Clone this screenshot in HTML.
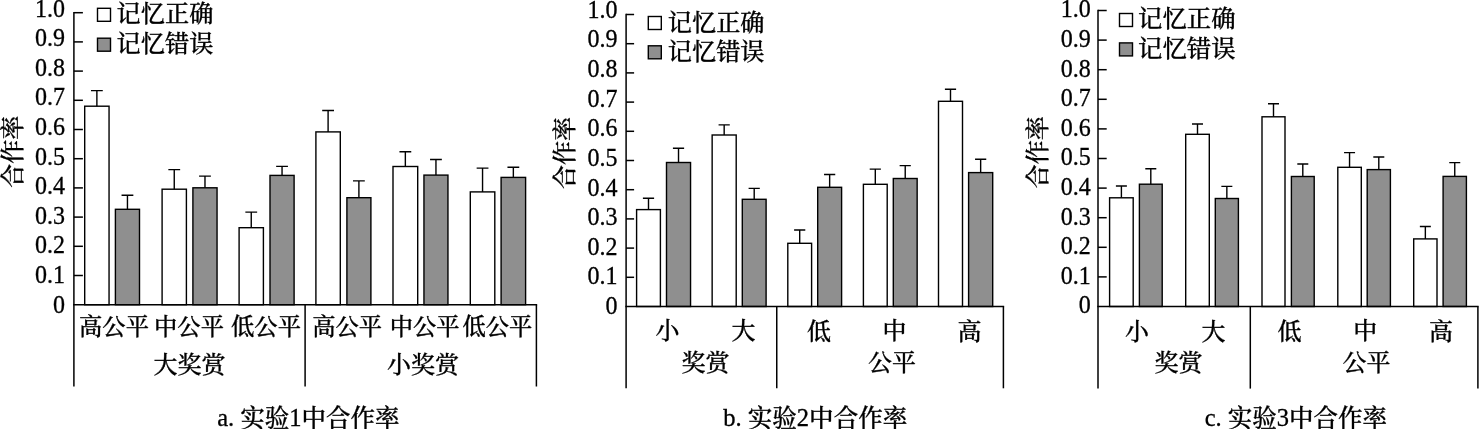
<!DOCTYPE html>
<html lang="zh-CN"><head><meta charset="utf-8"><title>合作率</title>
<style>html,body{margin:0;padding:0;background:#fff}svg{display:block}svg text{font-family:"Liberation Serif", "Noto Serif CJK SC", serif;fill:#000;font-weight:500;stroke:#000;stroke-width:0.3px}svg line{stroke:#000;stroke-width:1.5}svg rect{stroke:#000;stroke-width:1.4}svg path{stroke:#000;stroke-width:1.4;fill:none}</style></head><body>
<svg width="1479" height="429" viewBox="0 0 1479 429">
<g>
<rect class="b" x="84.70" y="106.20" width="24.35" height="198.50" fill="#fff"/>
<path class="b" d="M96.88 106.20V90.60M90.97 90.60H102.78"/>
<rect class="b" x="115.40" y="209.30" width="24.10" height="95.40" fill="#8f8f8f"/>
<path class="b" d="M127.45 209.30V195.30M121.55 195.30H133.35"/>
<rect class="b" x="162.10" y="189.20" width="24.30" height="115.50" fill="#fff"/>
<path class="b" d="M174.25 189.20V169.60M168.35 169.60H180.15"/>
<rect class="b" x="192.90" y="187.80" width="24.15" height="116.90" fill="#8f8f8f"/>
<path class="b" d="M204.98 187.80V176.10M199.08 176.10H210.88"/>
<rect class="b" x="239.10" y="227.70" width="24.30" height="77.00" fill="#fff"/>
<path class="b" d="M251.25 227.70V212.10M245.35 212.10H257.15"/>
<rect class="b" x="270.00" y="175.40" width="24.10" height="129.30" fill="#8f8f8f"/>
<path class="b" d="M282.05 175.40V166.40M276.15 166.40H287.95"/>
<rect class="b" x="315.90" y="131.90" width="24.40" height="172.80" fill="#fff"/>
<path class="b" d="M328.10 131.90V110.50M322.20 110.50H334.00"/>
<rect class="b" x="346.90" y="197.70" width="24.00" height="107.00" fill="#8f8f8f"/>
<path class="b" d="M358.90 197.70V180.90M353.00 180.90H364.80"/>
<rect class="b" x="393.00" y="166.50" width="24.70" height="138.20" fill="#fff"/>
<path class="b" d="M405.35 166.50V151.80M399.45 151.80H411.25"/>
<rect class="b" x="423.95" y="175.10" width="24.00" height="129.60" fill="#8f8f8f"/>
<path class="b" d="M435.95 175.10V159.50M430.05 159.50H441.85"/>
<rect class="b" x="470.30" y="191.90" width="24.50" height="112.80" fill="#fff"/>
<path class="b" d="M482.55 191.90V168.10M476.65 168.10H488.45"/>
<rect class="b" x="501.10" y="177.40" width="24.50" height="127.30" fill="#8f8f8f"/>
<path class="b" d="M513.35 177.40V167.20M507.45 167.20H519.25"/>
<line x1="73.90" y1="11.95" x2="73.90" y2="386.50"/>
<line x1="73.15" y1="304.70" x2="537.15" y2="304.70"/>
<line x1="536.40" y1="304.70" x2="536.40" y2="386.50"/>
<line x1="305.10" y1="304.70" x2="305.10" y2="386.50"/>
<line x1="73.90" y1="275.50" x2="82.90" y2="275.50"/>
<line x1="73.90" y1="246.30" x2="82.90" y2="246.30"/>
<line x1="73.90" y1="217.10" x2="82.90" y2="217.10"/>
<line x1="73.90" y1="187.90" x2="82.90" y2="187.90"/>
<line x1="73.90" y1="158.70" x2="82.90" y2="158.70"/>
<line x1="73.90" y1="129.50" x2="82.90" y2="129.50"/>
<line x1="73.90" y1="100.30" x2="82.90" y2="100.30"/>
<line x1="73.90" y1="71.10" x2="82.90" y2="71.10"/>
<line x1="73.90" y1="41.90" x2="82.90" y2="41.90"/>
<line x1="73.90" y1="12.70" x2="82.90" y2="12.70"/>
<text transform="translate(65.10,312.60) scale(1,1.06)" text-anchor="end" font-size="24">0</text>
<text transform="translate(65.10,283.00) scale(1,1.06)" text-anchor="end" font-size="24">0.1</text>
<text transform="translate(65.10,253.40) scale(1,1.06)" text-anchor="end" font-size="24">0.2</text>
<text transform="translate(65.10,223.80) scale(1,1.06)" text-anchor="end" font-size="24">0.3</text>
<text transform="translate(65.10,194.20) scale(1,1.06)" text-anchor="end" font-size="24">0.4</text>
<text transform="translate(65.10,164.60) scale(1,1.06)" text-anchor="end" font-size="24">0.5</text>
<text transform="translate(65.10,135.00) scale(1,1.06)" text-anchor="end" font-size="24">0.6</text>
<text transform="translate(65.10,105.40) scale(1,1.06)" text-anchor="end" font-size="24">0.7</text>
<text transform="translate(65.10,75.80) scale(1,1.06)" text-anchor="end" font-size="24">0.8</text>
<text transform="translate(65.10,46.20) scale(1,1.06)" text-anchor="end" font-size="24">0.9</text>
<text transform="translate(65.10,16.60) scale(1,1.06)" text-anchor="end" font-size="24">1.0</text>
<text transform="translate(21.00,151.70) rotate(-90)" text-anchor="middle" font-size="24">合作率</text>
<rect x="97.50" y="8.30" width="13" height="13" fill="#fff"/>
<rect x="97.50" y="38.20" width="13" height="13" fill="#8f8f8f"/>
<text x="116.60" y="22.00" text-anchor="start" font-size="24.2">记忆正确</text>
<text x="116.60" y="51.90" text-anchor="start" font-size="24.2">记忆错误</text>
<text x="114.00" y="335.20" text-anchor="middle" font-size="23.3">高公平</text>
<text x="189.00" y="335.20" text-anchor="middle" font-size="23.3">中公平</text>
<text x="266.00" y="335.20" text-anchor="middle" font-size="23.3">低公平</text>
<text x="347.10" y="335.20" text-anchor="middle" font-size="23.3">高公平</text>
<text x="424.60" y="335.20" text-anchor="middle" font-size="23.3">中公平</text>
<text x="497.40" y="335.20" text-anchor="middle" font-size="23.3">低公平</text>
<text x="189.60" y="372.80" text-anchor="middle" font-size="24">大奖赏</text>
<text x="422.90" y="372.80" text-anchor="middle" font-size="24">小奖赏</text>
<text x="308.40" y="426.20" text-anchor="middle" font-size="24.5">a. <tspan dy="0.9">实验</tspan><tspan dy="-0.9">1</tspan><tspan dy="0.9">中合作率</tspan></text>
</g>
<g>
<rect class="b" x="636.60" y="209.60" width="23.80" height="96.90" fill="#fff"/>
<path class="b" d="M648.50 209.60V198.20M642.90 198.20H654.10"/>
<rect class="b" x="666.50" y="162.50" width="24.05" height="144.00" fill="#8f8f8f"/>
<path class="b" d="M678.52 162.50V148.20M672.92 148.20H684.12"/>
<rect class="b" x="712.15" y="135.00" width="24.05" height="171.50" fill="#fff"/>
<path class="b" d="M724.17 135.00V124.90M718.57 124.90H729.77"/>
<rect class="b" x="742.30" y="199.30" width="23.80" height="107.20" fill="#8f8f8f"/>
<path class="b" d="M754.20 199.30V188.40M748.60 188.40H759.80"/>
<rect class="b" x="787.80" y="243.30" width="23.80" height="63.20" fill="#fff"/>
<path class="b" d="M799.70 243.30V230.00M794.10 230.00H805.30"/>
<rect class="b" x="817.70" y="187.30" width="23.90" height="119.20" fill="#8f8f8f"/>
<path class="b" d="M829.65 187.30V174.50M824.05 174.50H835.25"/>
<rect class="b" x="863.40" y="184.30" width="23.80" height="122.20" fill="#fff"/>
<path class="b" d="M875.30 184.30V169.10M869.70 169.10H880.90"/>
<rect class="b" x="893.30" y="178.50" width="23.85" height="128.00" fill="#8f8f8f"/>
<path class="b" d="M905.22 178.50V165.60M899.62 165.60H910.82"/>
<rect class="b" x="938.50" y="101.30" width="24.00" height="205.20" fill="#fff"/>
<path class="b" d="M950.50 101.30V89.20M944.90 89.20H956.10"/>
<rect class="b" x="968.60" y="172.60" width="24.10" height="133.90" fill="#8f8f8f"/>
<path class="b" d="M980.65 172.60V159.30M975.05 159.30H986.25"/>
<line x1="626.10" y1="13.75" x2="626.10" y2="388.30"/>
<line x1="625.35" y1="306.50" x2="1004.15" y2="306.50"/>
<line x1="1003.40" y1="306.50" x2="1003.40" y2="388.30"/>
<line x1="776.75" y1="306.50" x2="776.75" y2="388.30"/>
<line x1="626.10" y1="277.30" x2="634.10" y2="277.30"/>
<line x1="626.10" y1="248.10" x2="634.10" y2="248.10"/>
<line x1="626.10" y1="218.90" x2="634.10" y2="218.90"/>
<line x1="626.10" y1="189.70" x2="634.10" y2="189.70"/>
<line x1="626.10" y1="160.50" x2="634.10" y2="160.50"/>
<line x1="626.10" y1="131.30" x2="634.10" y2="131.30"/>
<line x1="626.10" y1="102.10" x2="634.10" y2="102.10"/>
<line x1="626.10" y1="72.90" x2="634.10" y2="72.90"/>
<line x1="626.10" y1="43.70" x2="634.10" y2="43.70"/>
<line x1="626.10" y1="14.50" x2="634.10" y2="14.50"/>
<text transform="translate(617.50,314.10) scale(1,1.06)" text-anchor="end" font-size="24">0</text>
<text transform="translate(617.50,284.45) scale(1,1.06)" text-anchor="end" font-size="24">0.1</text>
<text transform="translate(617.50,254.80) scale(1,1.06)" text-anchor="end" font-size="24">0.2</text>
<text transform="translate(617.50,225.15) scale(1,1.06)" text-anchor="end" font-size="24">0.3</text>
<text transform="translate(617.50,195.50) scale(1,1.06)" text-anchor="end" font-size="24">0.4</text>
<text transform="translate(617.50,165.85) scale(1,1.06)" text-anchor="end" font-size="24">0.5</text>
<text transform="translate(617.50,136.20) scale(1,1.06)" text-anchor="end" font-size="24">0.6</text>
<text transform="translate(617.50,106.55) scale(1,1.06)" text-anchor="end" font-size="24">0.7</text>
<text transform="translate(617.50,76.90) scale(1,1.06)" text-anchor="end" font-size="24">0.8</text>
<text transform="translate(617.50,47.25) scale(1,1.06)" text-anchor="end" font-size="24">0.9</text>
<text transform="translate(617.50,17.60) scale(1,1.06)" text-anchor="end" font-size="24">1.0</text>
<text transform="translate(573.30,153.10) rotate(-90)" text-anchor="middle" font-size="24">合作率</text>
<rect x="648.30" y="16.50" width="13" height="13" fill="#fff"/>
<rect x="648.30" y="45.80" width="13" height="13" fill="#8f8f8f"/>
<text x="667.80" y="30.50" text-anchor="start" font-size="24.2">记忆正确</text>
<text x="667.80" y="59.80" text-anchor="start" font-size="24.2">记忆错误</text>
<text x="667.50" y="339.20" text-anchor="middle" font-size="24">小</text>
<text x="743.50" y="339.20" text-anchor="middle" font-size="24">大</text>
<text x="818.90" y="339.80" text-anchor="middle" font-size="24">低</text>
<text x="894.60" y="339.20" text-anchor="middle" font-size="24">中</text>
<text x="969.50" y="339.60" text-anchor="middle" font-size="24">高</text>
<text x="705.40" y="371.30" text-anchor="middle" font-size="24">奖赏</text>
<text x="892.00" y="371.00" text-anchor="middle" font-size="24">公平</text>
<text x="815.25" y="426.40" text-anchor="middle" font-size="24.55">b. <tspan dy="0.9">实验</tspan><tspan dy="-0.9">2</tspan><tspan dy="0.9">中合作率</tspan></text>
</g>
<g>
<rect class="b" x="1109.60" y="197.80" width="23.60" height="108.70" fill="#fff"/>
<path class="b" d="M1121.40 197.80V186.00M1115.90 186.00H1126.90"/>
<rect class="b" x="1139.40" y="184.20" width="22.80" height="122.30" fill="#8f8f8f"/>
<path class="b" d="M1150.80 184.20V168.80M1145.30 168.80H1156.30"/>
<rect class="b" x="1185.70" y="134.30" width="23.60" height="172.20" fill="#fff"/>
<path class="b" d="M1197.50 134.30V124.00M1192.00 124.00H1203.00"/>
<rect class="b" x="1215.30" y="198.50" width="23.10" height="108.00" fill="#8f8f8f"/>
<path class="b" d="M1226.85 198.50V186.40M1221.35 186.40H1232.35"/>
<rect class="b" x="1262.00" y="116.80" width="23.00" height="189.70" fill="#fff"/>
<path class="b" d="M1273.50 116.80V103.80M1268.00 103.80H1279.00"/>
<rect class="b" x="1291.40" y="176.50" width="22.80" height="130.00" fill="#8f8f8f"/>
<path class="b" d="M1302.80 176.50V164.00M1297.30 164.00H1308.30"/>
<rect class="b" x="1337.80" y="167.30" width="23.50" height="139.20" fill="#fff"/>
<path class="b" d="M1349.55 167.30V152.60M1344.05 152.60H1355.05"/>
<rect class="b" x="1367.20" y="169.60" width="23.20" height="136.90" fill="#8f8f8f"/>
<path class="b" d="M1378.80 169.60V157.00M1373.30 157.00H1384.30"/>
<rect class="b" x="1413.70" y="238.90" width="23.30" height="67.60" fill="#fff"/>
<path class="b" d="M1425.35 238.90V226.50M1419.85 226.50H1430.85"/>
<rect class="b" x="1443.10" y="176.40" width="23.30" height="130.10" fill="#8f8f8f"/>
<path class="b" d="M1454.75 176.40V162.60M1449.25 162.60H1460.25"/>
<line x1="1098.00" y1="9.75" x2="1098.00" y2="388.60"/>
<line x1="1097.25" y1="306.50" x2="1478.65" y2="306.50"/>
<line x1="1477.90" y1="306.50" x2="1477.90" y2="388.60"/>
<line x1="1250.30" y1="306.50" x2="1250.30" y2="388.60"/>
<line x1="1098.00" y1="276.90" x2="1106.70" y2="276.90"/>
<line x1="1098.00" y1="247.30" x2="1106.70" y2="247.30"/>
<line x1="1098.00" y1="217.70" x2="1106.70" y2="217.70"/>
<line x1="1098.00" y1="188.10" x2="1106.70" y2="188.10"/>
<line x1="1098.00" y1="158.50" x2="1106.70" y2="158.50"/>
<line x1="1098.00" y1="128.90" x2="1106.70" y2="128.90"/>
<line x1="1098.00" y1="99.30" x2="1106.70" y2="99.30"/>
<line x1="1098.00" y1="69.70" x2="1106.70" y2="69.70"/>
<line x1="1098.00" y1="40.10" x2="1106.70" y2="40.10"/>
<line x1="1098.00" y1="10.50" x2="1106.70" y2="10.50"/>
<text transform="translate(1090.70,313.30) scale(1,1.06)" text-anchor="end" font-size="24">0</text>
<text transform="translate(1090.70,283.71) scale(1,1.06)" text-anchor="end" font-size="24">0.1</text>
<text transform="translate(1090.70,254.12) scale(1,1.06)" text-anchor="end" font-size="24">0.2</text>
<text transform="translate(1090.70,224.53) scale(1,1.06)" text-anchor="end" font-size="24">0.3</text>
<text transform="translate(1090.70,194.94) scale(1,1.06)" text-anchor="end" font-size="24">0.4</text>
<text transform="translate(1090.70,165.35) scale(1,1.06)" text-anchor="end" font-size="24">0.5</text>
<text transform="translate(1090.70,135.76) scale(1,1.06)" text-anchor="end" font-size="24">0.6</text>
<text transform="translate(1090.70,106.17) scale(1,1.06)" text-anchor="end" font-size="24">0.7</text>
<text transform="translate(1090.70,76.58) scale(1,1.06)" text-anchor="end" font-size="24">0.8</text>
<text transform="translate(1090.70,46.99) scale(1,1.06)" text-anchor="end" font-size="24">0.9</text>
<text transform="translate(1090.70,17.40) scale(1,1.06)" text-anchor="end" font-size="24">1.0</text>
<text transform="translate(1046.20,152.20) rotate(-90)" text-anchor="middle" font-size="24">合作率</text>
<rect x="1119.50" y="13.50" width="13" height="13" fill="#fff"/>
<rect x="1119.50" y="42.90" width="13" height="13" fill="#8f8f8f"/>
<text x="1138.00" y="27.40" text-anchor="start" font-size="24.4">记忆正确</text>
<text x="1138.00" y="56.80" text-anchor="start" font-size="24.4">记忆错误</text>
<text x="1137.00" y="339.80" text-anchor="middle" font-size="24">小</text>
<text x="1213.40" y="339.80" text-anchor="middle" font-size="24">大</text>
<text x="1289.40" y="340.20" text-anchor="middle" font-size="24">低</text>
<text x="1365.20" y="339.40" text-anchor="middle" font-size="24">中</text>
<text x="1441.10" y="339.80" text-anchor="middle" font-size="24">高</text>
<text x="1178.50" y="371.40" text-anchor="middle" font-size="24">奖赏</text>
<text x="1366.40" y="371.00" text-anchor="middle" font-size="24">公平</text>
<text x="1295.90" y="426.10" text-anchor="middle" font-size="24.5">c. <tspan dy="0.9">实验</tspan><tspan dy="-0.9">3</tspan><tspan dy="0.9">中合作率</tspan></text>
</g>
</svg></body></html>
